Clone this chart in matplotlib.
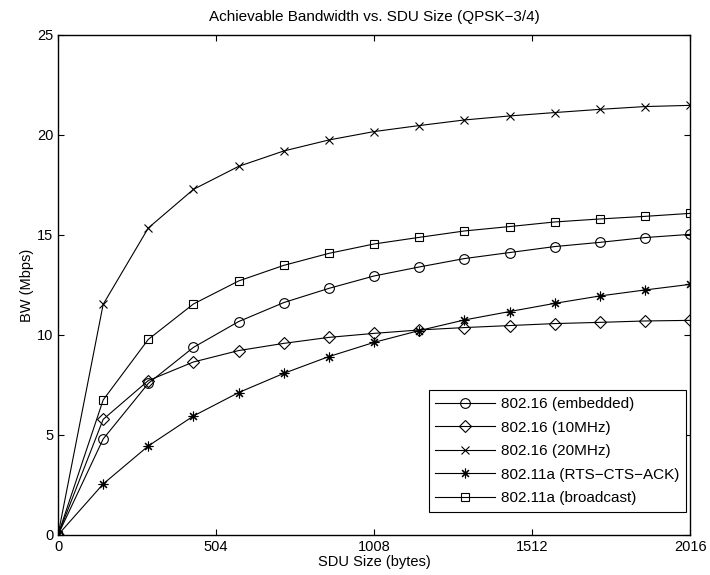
import numpy as np
import matplotlib
matplotlib.use('Agg')
import matplotlib.pyplot as plt

plt.rcParams['font.family'] = ['Liberation Sans', 'DejaVu Sans']

sdu = [0, 144, 288, 432, 576, 720, 864, 1008, 1152, 1296, 1440, 1584, 1728, 1872, 2016]

bw_embedded = [0, 4.80, 7.58, 9.38, 10.67, 11.62, 12.33, 12.95, 13.40, 13.82, 14.12, 14.42, 14.63, 14.87, 15.03]
bw_10mhz = [0, 5.78, 7.72, 8.65, 9.22, 9.58, 9.88, 10.08, 10.25, 10.37, 10.47, 10.57, 10.63, 10.70, 10.73]
bw_20mhz = [0, 11.53, 15.35, 17.28, 18.43, 19.20, 19.75, 20.17, 20.47, 20.75, 20.95, 21.12, 21.28, 21.42, 21.48]
bw_rts = [0, 2.55, 4.45, 5.95, 7.12, 8.08, 8.92, 9.63, 10.22, 10.75, 11.17, 11.58, 11.95, 12.25, 12.53]
bw_bcast = [0, 6.75, 9.78, 11.55, 12.70, 13.48, 14.08, 14.55, 14.88, 15.20, 15.42, 15.65, 15.80, 15.93, 16.08]

labels = ['802.16 (embedded)', '802.16 (10MHz)', '802.16 (20MHz)',
          '802.11a (RTS\u2212CTS\u2212ACK)', '802.11a (broadcast)']
series = [bw_embedded, bw_10mhz, bw_20mhz, bw_rts, bw_bcast]
markers = ['o', 'D', 'x', (8, 2, 0), 's']   # (8,2,0) = matlab-ish asterisk
msizes = [7, 6, 5.5, 7, 6]

fig = plt.figure(figsize=(7.1, 5.75), dpi=100)
ax = fig.add_axes([0.0817, 0.0696, 0.8903, 0.8696])

for ys, lab, m, ms in zip(series, labels, markers, msizes):
    ax.plot(sdu, ys, color='black', linewidth=0.8, marker=m, markersize=ms,
            markerfacecolor='none', markeredgecolor='black', markeredgewidth=0.8,
            label=lab)

ax.set_xlim(0, 2016)
ax.set_ylim(0, 25)
ax.set_xticks([0, 504, 1008, 1512, 2016])
ax.set_yticks([0, 5, 10, 15, 20, 25])
ax.tick_params(direction='in', top=True, right=True, labelsize=10.5, length=4, width=0.8)
for sp in ax.spines.values():
    sp.set_linewidth(1.0)

ax.set_xlabel('SDU Size (bytes)', fontsize=10.5, labelpad=1)
ax.set_ylabel('BW (Mbps)', fontsize=10.5, labelpad=2)
ax.set_title('Achievable Bandwidth vs. SDU Size (QPSK\u22123/4)', fontsize=11, pad=10)

leg = ax.legend(loc='lower right', fontsize=11, handlelength=3.9, fancybox=False,
                edgecolor='black', framealpha=1, borderpad=0.45, labelspacing=0.62,
                handletextpad=0.4, borderaxespad=0,
                bbox_to_anchor=(0.994, 0.046))
leg.get_frame().set_linewidth(0.8)

fig.savefig('out.png', dpi=100)
